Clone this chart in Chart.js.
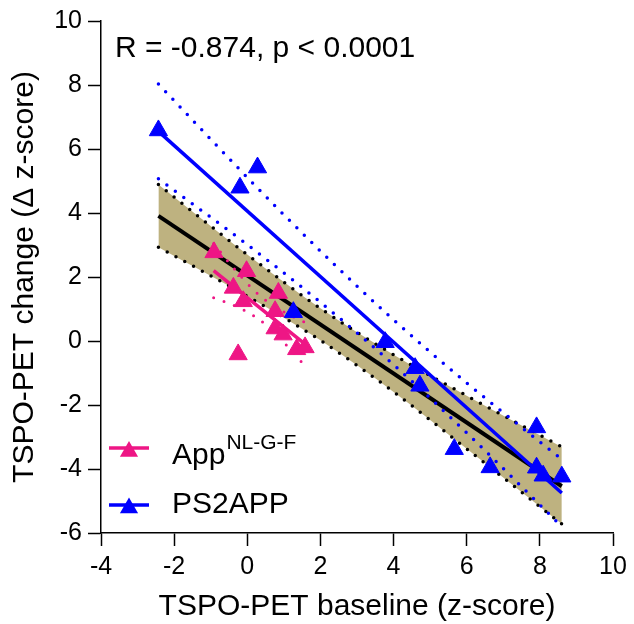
<!DOCTYPE html>
<html>
<head>
<meta charset="utf-8">
<script src="https://cdn.jsdelivr.net/npm/chart.js@4.4.1/dist/chart.umd.min.js"></script>
<style>
html, body { margin: 0; padding: 0; background: #fff; }
#wrap { width: 634px; height: 624px; position: relative; }
</style>
</head>
<body>
<div id="wrap"><canvas id="canva"></canvas></div>
<script>
const ctx = document.getElementById('canva');

// AppNL-G-F animals (baseline, change)
const appX = [-0.91, -0.02, -0.38, -0.11, 0.85, 0.76, 0.76, 0.98, 1.35, 1.58, -0.25];
const appY = [2.77, 2.18, 1.66, 1.24, 1.50, 0.93, 0.39, 0.20, -0.26, -0.20, -0.42];

// PS2APP animals
const ps2X = [-2.43, -0.20, 0.28, 1.26, 3.77, 4.59, 4.72, 5.66, 6.64, 7.91, 7.91, 8.09, 8.60];
const ps2Y = [6.58, 4.79, 5.42, 0.90, -0.04, -0.85, -1.40, -3.38, -3.95, -2.70, -3.96, -4.21, -4.24];

// fit lines
const allFitX = [-2.43, 8.60];
const allFitY = [3.91, -4.54];
const ps2FitX = [-2.43, 8.60];
const ps2FitY = [6.55, -4.75];
const appFitX = [-0.92, 1.58];
const appFitY = [2.20, -0.10];

// 95% bands
const allBandX = [-2.43, 0, 2, 4, 6, 8.60];
const allBandHi = [4.89, 2.70, 1.02, -0.43, -1.71, -3.31];
const allBandLo = [2.93, 1.40, 0.02, -1.59, -3.37, -5.72];
const ps2BandX = [-2.43, 0, 2, 4, 6, 8.60];
const ps2BandHi = [8.03, 5.11, 2.81, 0.66, -1.31, -3.70];
const ps2BandLo = [5.07, 3.01, 1.21, -0.74, -2.87, -5.80];
const appBandX = [-0.92, -0.30, 0.35, 1.00, 1.58];
const appBandHi = [3.05, 2.18, 1.41, 0.91, 0.58];
const appBandLo = [1.35, 1.08, 0.65, -0.05, -0.78];

const xTicks = [-4, -2, 0, 2, 4, 6, 8, 10];
const yTicks = [-6, -4, -2, 0, 2, 4, 6, 8, 10];

const statText = 'R = -0.874, p < 0.0001';
const xTitle = 'TSPO-PET baseline (z-score)';
const yTitle = 'TSPO-PET change (\u0394 z-score)';

const PINK = '#EE1685';
const BLUE = '#0000FF';
const KHAKI = '#BEB280';
const FONT = '"Liberation Sans", Arial, sans-serif';

function pts(xs, ys) {
    var out = [];
    xs.forEach((x, i) => out.push({x: x, y: ys[i]}));
    return out;
}

function dotted(xs, ys, color, w, gap, order) {
    return {
        data: pts(xs, ys), showLine: true, pointRadius: 0,
        borderColor: color, borderWidth: w, borderDash: [0, gap],
        borderCapStyle: 'round', fill: false, order: order,
        cubicInterpolationMode: 'monotone'
    };
}

function solid(xs, ys, color, w, order) {
    return {
        data: pts(xs, ys), showLine: true, pointRadius: 0,
        borderColor: color, borderWidth: w, fill: false, order: order
    };
}

function triangle(c, x, y, r, color) {
    c.beginPath();
    c.moveTo(x, y - r);
    c.lineTo(x + r * Math.sin(2 * Math.PI / 3), y - r * Math.cos(2 * Math.PI / 3));
    c.lineTo(x + r * Math.sin(4 * Math.PI / 3), y - r * Math.cos(4 * Math.PI / 3));
    c.closePath();
    c.fillStyle = color;
    c.fill();
}

const extras = {
    id: 'extras',
    afterDraw(chart) {
        const c = chart.ctx;
        const a = chart.chartArea;
        c.save();
        c.fillStyle = '#000';
        c.font = '30px ' + FONT;
        c.textAlign = 'left';
        c.textBaseline = 'alphabetic';
        c.fillText(statText, 115, 57);

        c.textAlign = 'center';
        c.fillText(xTitle, (a.left + a.right) / 2, 615);

        c.save();
        c.translate(25, (a.top + a.bottom) / 2);
        c.rotate(-Math.PI / 2);
        c.textBaseline = 'middle';
        c.fillText(yTitle, 0, 0);
        c.restore();

        // legend
        c.lineWidth = 3.5;
        c.strokeStyle = PINK;
        c.beginPath(); c.moveTo(109, 448); c.lineTo(149, 448); c.stroke();
        triangle(c, 129, 451.5, 10.5, PINK);
        c.strokeStyle = BLUE;
        c.beginPath(); c.moveTo(109, 505); c.lineTo(149, 505); c.stroke();
        triangle(c, 129, 508, 10.5, BLUE);

        c.fillStyle = '#000';
        c.textAlign = 'left';
        c.textBaseline = 'alphabetic';
        c.font = '30px ' + FONT;
        c.fillText('App', 172, 464);
        var w = c.measureText('App').width;
        c.font = '21px ' + FONT;
        c.fillText('NL-G-F', 172 + w + 1, 449);
        c.font = '30px ' + FONT;
        c.fillText('PS2APP', 172, 513);
        c.restore();
    }
};

var bandHi = dotted(allBandX, allBandHi, '#000', 3.5, 10, 9);
bandHi.fill = '+1';
bandHi.backgroundColor = KHAKI;

var canva = new Chart(ctx, {
    type: 'scatter',
    data: {
        datasets: [
            bandHi,
            dotted(allBandX, allBandLo, '#000', 3.5, 10, 8),
            solid(allFitX, allFitY, '#000', 4, 7),
            dotted(ps2BandX, ps2BandHi, BLUE, 3.5, 10.5, 6),
            dotted(ps2BandX, ps2BandLo, BLUE, 3.5, 10.5, 6),
            solid(ps2FitX, ps2FitY, BLUE, 3.5, 5),
            dotted(appBandX, appBandHi, PINK, 3, 11, 4),
            dotted(appBandX, appBandLo, PINK, 3, 11, 4),
            solid(appFitX, appFitY, PINK, 3.5, 3),
            {
                data: pts(appX, appY), pointStyle: 'triangle', pointRadius: 10.5,
                backgroundColor: PINK, borderColor: PINK, borderWidth: 1, order: 2
            },
            {
                data: pts(ps2X, ps2Y), pointStyle: 'triangle', pointRadius: 10.5,
                backgroundColor: BLUE, borderColor: BLUE, borderWidth: 1, order: 1
            }
        ]
    },
    options: {
        responsive: true,
        maintainAspectRatio: false,
        animation: false,
        events: [],
        layout: { padding: { top: 20, right: 21, left: 0, bottom: 0 } },
        plugins: {
            legend: { display: false },
            tooltip: { enabled: false },
            filler: { drawTime: 'beforeDatasetsDraw' }
        },
        scales: {
            x: {
                type: 'linear', min: -4, max: 10,
                afterBuildTicks: s => { s.ticks = xTicks.map(v => ({value: v})); },
                afterFit: s => { s.height = 91; },
                grid: { drawOnChartArea: false, drawTicks: true, tickLength: 13, tickColor: '#000', tickWidth: 1.5 },
                border: { display: true, color: '#000', width: 1.5 },
                ticks: { color: '#000', font: { size: 25, family: FONT }, padding: 6, maxRotation: 0 }
            },
            y: {
                type: 'linear', min: -6, max: 10,
                afterBuildTicks: s => { s.ticks = yTicks.map(v => ({value: v})); },
                afterFit: s => { s.width = 101; },
                grid: { drawOnChartArea: false, drawTicks: true, tickLength: 13, tickColor: '#000', tickWidth: 1.5 },
                border: { display: true, color: '#000', width: 1.5 },
                ticks: { color: '#000', font: { size: 25, family: FONT }, padding: 6 }
            }
        }
    },
    plugins: [extras]
});
</script>
</body>
</html>
